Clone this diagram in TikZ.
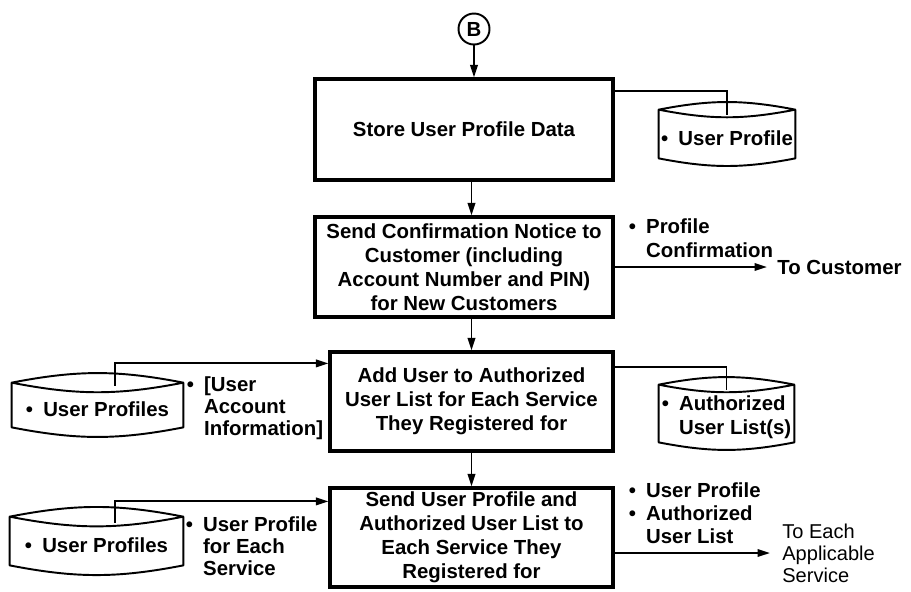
\documentclass[tikz,border=0pt]{standalone}
\usepackage{fontspec}
\setmainfont{Liberation Sans}
\usetikzlibrary{arrows.meta,positioning,calc}

% outline of a data store drawn round a named node
\newcommand{\drumoutline}[1]{%
  \draw[drumline] (#1.north west) to[bend left=11] (#1.north east)
    to[bend left=11] (#1.north west) -- ([yshift=1.6mm]#1.south west)
    to[bend right=11] ([yshift=1.6mm]#1.south east) -- (#1.north east);}

\begin{document}
\begin{tikzpicture}[
    font=\bfseries\fontsize{11.6}{13.6}\selectfont,
    % node styles
    pbox/.style     = {draw, line width=1.8pt, align=center, inner sep=2pt,
                       minimum height=1.98cm},
    offpage/.style  = {draw, circle, line width=1.1pt, minimum size=0.62cm,
                       inner sep=0pt},
    dstore/.style   = {inner sep=1pt, align=left},
    dlabel/.style   = {anchor=north west, inner sep=0pt, align=left,
                       font=\bfseries\fontsize{11.6}{12.6}\selectfont},
    dest/.style     = {anchor=west, inner ysep=0pt, align=left},
    % edges
    flow/.style     = {-{Triangle[length=2.5mm, width=1.5mm]}, line width=1.1pt},
    dlink/.style    = {line width=1.1pt},
    drumline/.style = {line width=1.1pt, line cap=round, line join=round}
  ]

\useasboundingbox (0,0) rectangle (18.22,-11.82);

% ============================================================
% Process chain (top-down)
% ============================================================
\node[offpage] (B) at (9.48,-0.58) {B};

\node[pbox, minimum width=5.96cm, minimum height=2.02cm] (b1) at (9.28,-2.59)
  {Store User Profile Data};
\node[pbox, minimum width=5.96cm, minimum height=2.0cm] (b2) at (9.28,-5.34)
  {Send Confirmation Notice to\\Customer (including\\
   Account Number and PIN)\\for New Customers};
\node[pbox, minimum width=5.66cm] (b3) at (9.43,-8.03)
  {Add User to Authorized\\User List for Each Service\\They Registered for};
\node[pbox, minimum width=5.66cm] (b4) at (9.43,-10.75)
  {Send User Profile and\\Authorized User List to\\Each Service They\\
   Registered for};

% ============================================================
% Data stores
% ============================================================
\node[dstore, minimum width=2.72cm, minimum height=1.12cm] (su1) at (14.54,-2.76)
  {•\enspace User Profile};
\node[dstore, minimum width=2.70cm, minimum height=1.30cm] (su2) at (14.53,-8.35)
  {•\enspace Authorized\\\phantom{•\enspace}User List(s)};
\node[dstore, minimum width=3.42cm, minimum height=1.04cm] (su3) at (1.95,-8.18)
  {•\enspace User Profiles};
\node[dstore, minimum width=3.46cm, minimum height=1.12cm] (su4) at (1.93,-10.90)
  {•\enspace User Profiles};
\drumoutline{su1}
\drumoutline{su2}
\drumoutline{su3}
\drumoutline{su4}

% ============================================================
% Data labels and destinations
% ============================================================
\node[dlabel, font=\bfseries\fontsize{11.6}{13.6}\selectfont] (conf) at (12.57,-4.36)
  {•\enspace Profile\\\phantom{•\enspace}Confirmation};
\node[dlabel] (acct) at (3.73,-7.52)
  {•\enspace [User\\\phantom{•\enspace}Account\\\phantom{•\enspace}Information]};
\node[dlabel] (forsvc) at (3.71,-10.32)
  {•\enspace User Profile\\\phantom{•\enspace}for Each\\\phantom{•\enspace}Service};
\node[dlabel, font=\bfseries\fontsize{11.6}{13.3}\selectfont] (outlist) at (12.57,-9.64)
  {•\enspace User Profile\\•\enspace Authorized\\\phantom{•\enspace}User List};

\node[dest, inner xsep=2mm] (tocust) at (15.34,-5.34) {To Customer};
\node[dest, inner xsep=2.4mm, font=\mdseries\fontsize{11.4}{12.5}\selectfont]
  (toeach) at (15.40,-11.06) {To Each\\Applicable\\Service};

% ============================================================
% Connectors
% ============================================================
\draw[flow] (B.south) -- (B.south |- b1.north);
\draw[flow] (b1.south -| b3.north) -- (b2.north -| b3.north);
\draw[flow] (b2.south -| b3.north) -- (b3.north);
\draw[flow] (b3.south) -- (b4.north);

\draw[dlink] ([yshift=-2.8mm]b1.north east) -| ([yshift=-1mm]su1.north);
\draw[dlink] ([yshift=-3.4mm]b3.north east) -| ([yshift=-1mm]su2.north);
\draw[flow] ([xshift=3.5mm, yshift=-0.6mm]su3.north) |- ([yshift=-2.6mm]b3.north west);
\draw[flow] ([xshift=3.7mm, yshift=-1.2mm]su4.north) |- ([yshift=-3mm]b4.north west);

\draw[flow] (b2.east) -- (tocust.west);
\draw[flow] (b4.east |- toeach.west) -- (toeach.west);

\end{tikzpicture}
\end{document}
